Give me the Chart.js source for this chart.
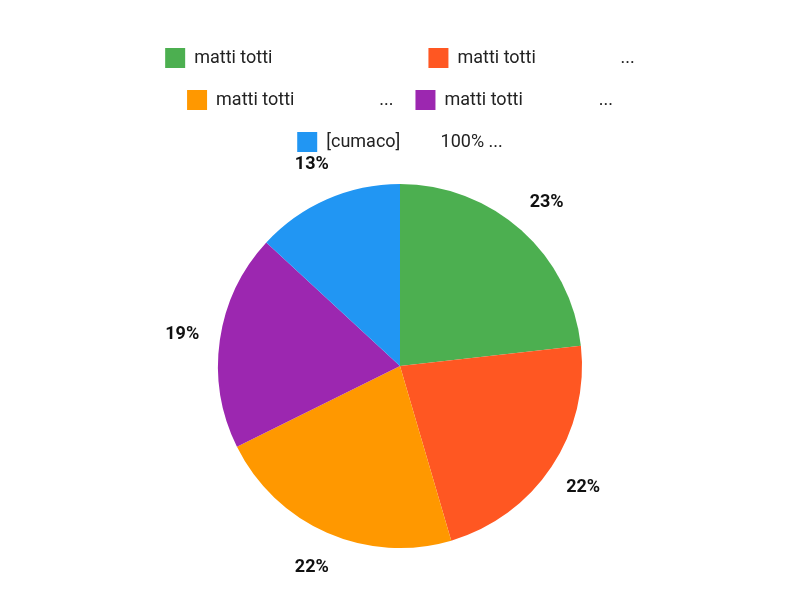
<!DOCTYPE html>
<html><head><meta charset="utf-8">
<script src="https://cdn.jsdelivr.net/npm/chart.js@4"></script>
<style>body{margin:0;background:#fff}#wrap{width:800px;height:600px}</style>
</head><body><div id="wrap"><canvas id="c"></canvas></div>
<script>
const labels = ["matti totti                              ", "matti totti                   ...", "matti totti                   ...", "matti totti                 ...", "[cumaco]         100% ..."];
const values = [23, 22, 22, 19, 13];
const colors = ["#4caf50", "#ff5722", "#ff9800", "#9c27b0", "#2196f3"];

const outLabels = {
  id: "outLabels",
  afterDatasetsDraw(chart) {
    const ctx = chart.ctx;
    const total = values.reduce((a, b) => a + b, 0);
    chart.getDatasetMeta(0).data.forEach((arc, i) => {
      const mid = (arc.startAngle + arc.endAngle) / 2;
      const r = arc.outerRadius + 38;
      ctx.save();
      ctx.font = "bold 18px Roboto";
      ctx.fillStyle = "#111";
      ctx.textAlign = "center";
      ctx.textBaseline = "middle";
      ctx.fillText(Math.round(values[i] / total * 100) + "%", arc.x + Math.cos(mid) * r, arc.y + Math.sin(mid) * r);
      ctx.restore();
    });
  }
};

new Chart(document.getElementById("c"), {
  type: "pie",
  data: { labels, datasets: [{ data: values, backgroundColor: colors, borderWidth: 0, radius: 182 }] },
  options: {
    responsive: true, maintainAspectRatio: false, animation: false,
    layout: { padding: { top: 26, bottom: 30, left: 60, right: 60 } },
    plugins: {
      legend: {
        position: "top",
        labels: { boxWidth: 20, boxHeight: 20, padding: 22, color: "#222", font: { family: "Roboto", size: 18 } }
      },
      tooltip: { enabled: false }
    }
  },
  plugins: [outLabels]
});
</script></body></html>
